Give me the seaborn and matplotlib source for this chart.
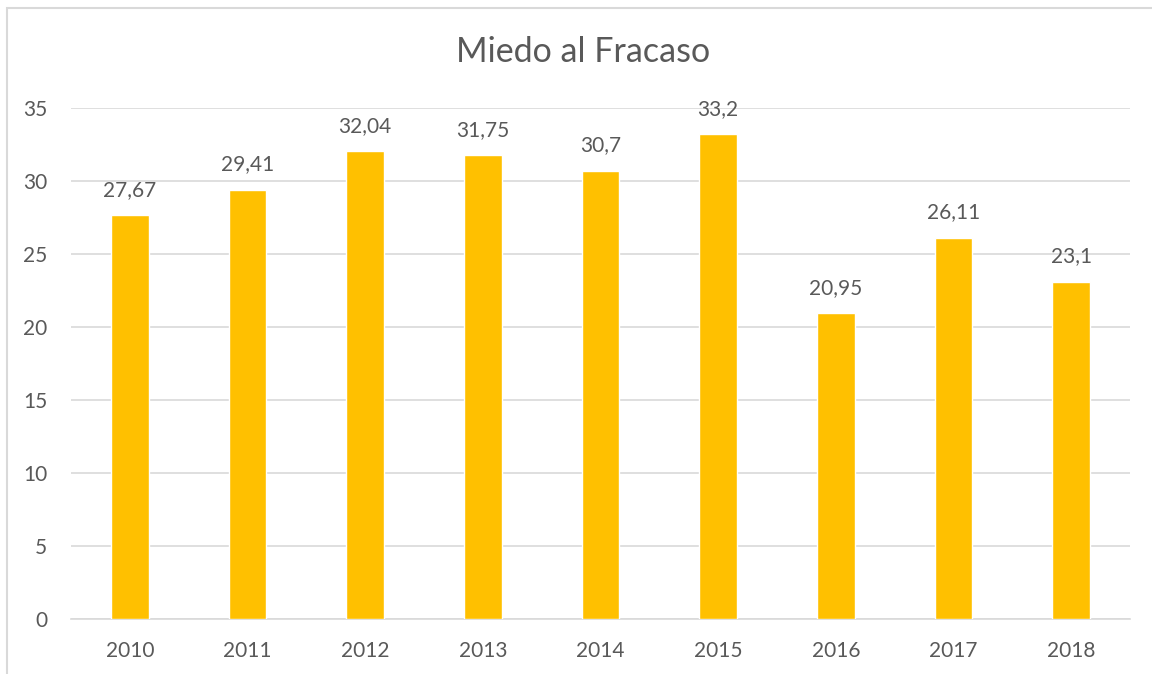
import pandas as pd
import seaborn as sns
import matplotlib.pyplot as plt
from matplotlib.patches import Rectangle

# Data
years = ["2010", "2011", "2012", "2013", "2014", "2015", "2016", "2017", "2018"]
values = [27.67, 29.41, 32.04, 31.75, 30.7, 33.2, 20.95, 26.11, 23.1]
value_labels = ["27,67", "29,41", "32,04", "31,75", "30,7", "33,2", "20,95", "26,11", "23,1"]

df = pd.DataFrame({"year": years, "value": values})

sns.set_theme(style="white")
plt.rcParams['font.family'] = ['Lato', 'DejaVu Sans']

TEXT = "#595959"
GRID = "#D9D9D9"
BAR = "#FFC000"

fig = plt.figure(figsize=(11.52, 6.74), dpi=100)
ax = fig.add_axes([71 / 1152, 55 / 674, (1130 - 71) / 1152, (619 - 108) / 674])

sns.barplot(data=df, x="year", y="value", color=BAR, width=0.32,
            saturation=1, ax=ax, zorder=3)

ax.set_ylim(0, 35)
ax.set_yticks(range(0, 36, 5))
ax.set_xlim(-0.5, len(years) - 0.5)
ax.yaxis.grid(True, color=GRID, linewidth=1.2, zorder=0)
ax.set_axisbelow(True)
for side in ["top", "right", "left"]:
    ax.spines[side].set_visible(False)
ax.spines["bottom"].set_color(GRID)
ax.spines["bottom"].set_linewidth(1.2)
ax.tick_params(axis="both", length=0, labelsize=15, labelcolor=TEXT)
ax.tick_params(axis="x", pad=16)
ax.tick_params(axis="y", pad=17)
ax.set_xlabel("")
ax.set_ylabel("")

for i, (v, txt) in enumerate(zip(values, value_labels)):
    ax.annotate(txt, (i, v), xytext=(0, 11), textcoords="offset points",
                ha="center", va="bottom", fontsize=15, color=TEXT)

fig.text(583 / 1152, 1 - 52 / 674, "Miedo al Fracaso", ha="center", va="center",
         fontsize=24.5, color=TEXT)

# chart border (left and top edges visible)
fig.patches.append(Rectangle((7 / 1152, -0.05), 1.1, 1.05 - 8 / 674,
                             transform=fig.transFigure, fill=False,
                             edgecolor=GRID, linewidth=1.5))

fig.savefig("out.png", dpi=100, facecolor="white")
